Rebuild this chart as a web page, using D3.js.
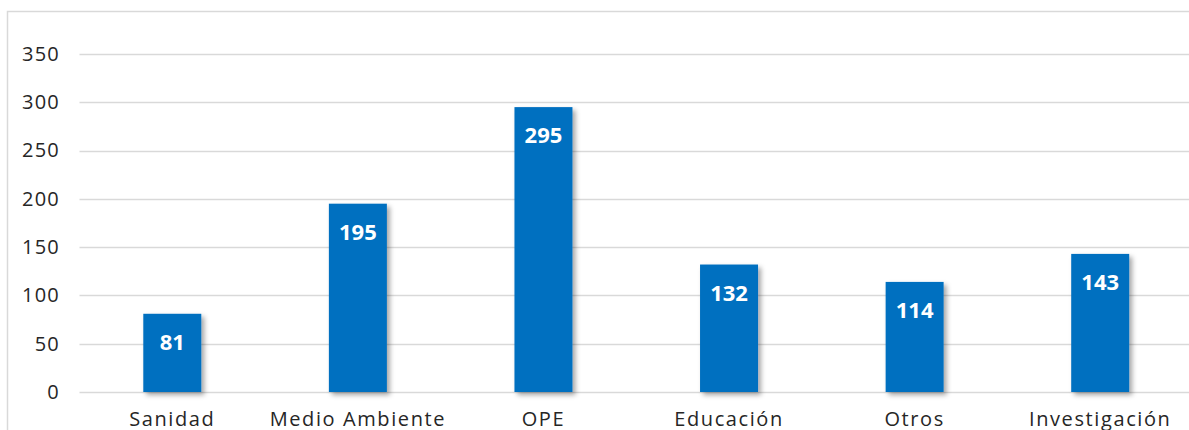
<html>
<head>
    <meta charset="utf-8">
    <title>Bar chart</title>
    <style>
        body { margin: 0; background: #fff; }
        .grid line { stroke: #d9d9d9; stroke-width: 1.5; }
        .ytick text { font-family: "Open Sans", sans-serif; font-size: 20px; fill: #262626; letter-spacing: 1.2px; }
        .xtick text { font-family: "Open Sans", sans-serif; font-size: 20px; fill: #262626; letter-spacing: 1.6px; }
        .bar-label { font-family: "Open Sans", sans-serif; font-size: 22px; font-weight: bold; fill: #fff; letter-spacing: 0px; }
    </style>
</head>
<body>
<div id="target"></div>
<script src="https://cdnjs.cloudflare.com/ajax/libs/d3/7.8.5/d3.min.js"></script>
<script>
    var categories = ['Sanidad', 'Medio Ambiente', 'OPE', 'Educación', 'Otros', 'Investigación'];
    var values = [81, 195, 295, 132, 114, 143];
    var yTicks = [0, 50, 100, 150, 200, 250, 300, 350];

    var width = 1189, height = 430;
    var svg = d3.select('#target').append('svg')
        .attr('width', width)
        .attr('height', height);

    var defs = svg.append('defs');
    var shadow = defs.append('filter').attr('id', 'shadow')
        .attr('x', '-20%').attr('y', '-20%').attr('width', '150%').attr('height', '150%');
    shadow.append('feDropShadow')
        .attr('dx', 3).attr('dy', 3).attr('stdDeviation', 2.5)
        .attr('flood-color', '#000').attr('flood-opacity', 0.35);

    // outer frame (only left and top edges visible in the crop)
    svg.append('path')
        .attr('d', 'M7.5,' + height + ' L7.5,11.5 L' + width + ',11.5')
        .attr('fill', 'none')
        .attr('stroke', '#d9d9d9')
        .attr('stroke-width', 1.5);

    var plotLeft = 79.5, plotRight = 1193, plotTop = 54, plotBottom = 392;

    var x = d3.scaleBand()
        .domain(categories)
        .range([plotLeft, plotRight])
        .paddingInner(0.6875)
        .paddingOuter(0.34375);

    var y = d3.scaleLinear()
        .domain([0, 350])
        .range([plotBottom, plotTop]);

    // gridlines
    svg.append('g').attr('class', 'grid')
        .selectAll('line')
        .data(yTicks)
        .enter().append('line')
        .attr('x1', plotLeft).attr('x2', width)
        .attr('y1', function (d) { return Math.round(y(d)) + 0.5; })
        .attr('y2', function (d) { return Math.round(y(d)) + 0.5; });

    // y axis labels
    var yAxis = d3.axisLeft(y).tickValues(yTicks).tickSize(0).tickPadding(0);
    var gy = svg.append('g')
        .attr('class', 'ytick')
        .attr('transform', 'translate(60,0)')
        .call(yAxis);
    gy.select('.domain').remove();
    gy.attr('font-family', null).attr('font-size', null);

    // x axis labels
    var xAxis = d3.axisBottom(x).tickSize(0).tickPadding(0);
    var gx = svg.append('g')
        .attr('class', 'xtick')
        .attr('transform', 'translate(0,' + plotBottom + ')')
        .call(xAxis);
    gx.select('.domain').remove();
    gx.attr('font-family', null).attr('font-size', null);
    gx.selectAll('text').attr('dy', null).attr('y', 34);

    // bars
    svg.append('g')
        .selectAll('rect')
        .data(values)
        .enter().append('rect')
        .attr('x', function (d, i) { return x(categories[i]); })
        .attr('width', x.bandwidth())
        .attr('y', function (d) { return y(d); })
        .attr('height', function (d) { return plotBottom - y(d); })
        .attr('fill', '#0070c0')
        .attr('filter', 'url(#shadow)');

    // value labels inside bars
    svg.append('g')
        .selectAll('text')
        .data(values)
        .enter().append('text')
        .attr('class', 'bar-label')
        .attr('text-anchor', 'middle')
        .attr('x', function (d, i) { return x(categories[i]) + x.bandwidth() / 2; })
        .attr('y', function (d) { return y(d) + 36; })
        .text(function (d) { return d; });
</script>
</body>
</html>
